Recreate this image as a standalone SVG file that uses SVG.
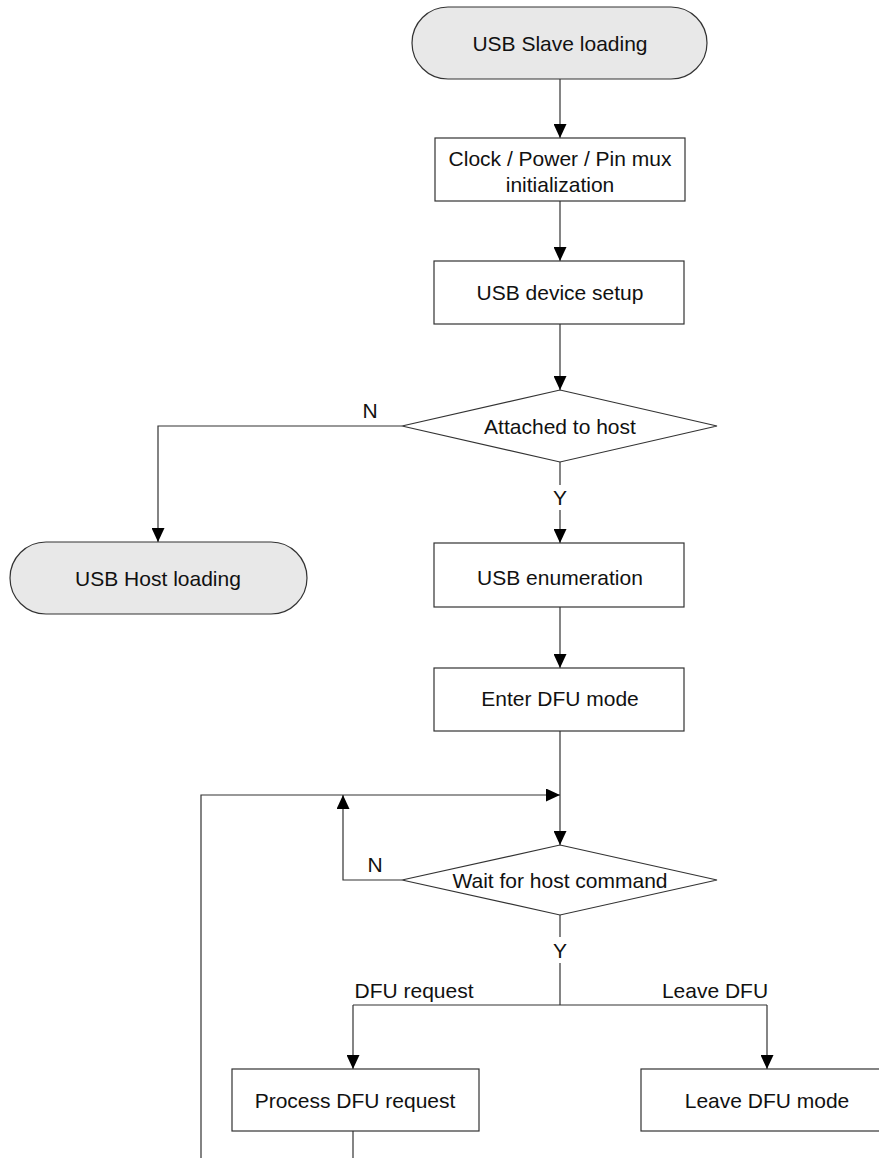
<svg xmlns="http://www.w3.org/2000/svg" width="879" height="1158" viewBox="0 0 879 1158">
<style>
.node{fill:#fff;stroke:#333;stroke-width:1.2}
.term{fill:#e8e8e8;stroke:#333;stroke-width:1.2}
.t{font-family:"Liberation Sans",Arial,sans-serif;font-size:21px;fill:#111;text-anchor:middle;dominant-baseline:central}
.c{fill:none;stroke:#333;stroke-width:1.2}
</style>
<defs>
<marker id="arr" markerUnits="userSpaceOnUse" markerWidth="14" markerHeight="13" refX="14" refY="6.5" orient="auto">
<path d="M0,0 L14,6.5 L0,13 z" fill="#000"/>
</marker>
</defs>
<rect width="879" height="1158" fill="#fff"/>
<g id="connectors">
<path class="c" d="M560,79 V138" marker-end="url(#arr)"/>
<path class="c" d="M560,201 V261" marker-end="url(#arr)"/>
<path class="c" d="M560,324 V390" marker-end="url(#arr)"/>
<path class="c" d="M402,426 H158 V542" marker-end="url(#arr)"/>
<path class="c" d="M560,462 V485"/>
<path class="c" d="M560,510 V543" marker-end="url(#arr)"/>
<path class="c" d="M560,607 V668" marker-end="url(#arr)"/>
<path class="c" d="M560,731 V845" marker-end="url(#arr)"/>
<path class="c" d="M201,1158 V795 H560" marker-end="url(#arr)"/>
<path class="c" d="M402,880 H343 V795" marker-end="url(#arr)"/>
<path class="c" d="M560,915 V937"/>
<path class="c" d="M560,963 V1005"/>
<path class="c" d="M353,1005 H767"/>
<path class="c" d="M353,1005 V1069" marker-end="url(#arr)"/>
<path class="c" d="M767,1005 V1069" marker-end="url(#arr)"/>
<path class="c" d="M353,1131 V1158"/>
<text class="t" x="370" y="410">N</text>
<text class="t" x="560" y="497">Y</text>
<text class="t" x="375" y="864">N</text>
<text class="t" x="560" y="950">Y</text>
<text class="t" x="414" y="990">DFU request</text>
<text class="t" x="715" y="990">Leave DFU</text>
</g>
<g id="start">
<rect class="term" x="412" y="7" width="295" height="72" rx="36" ry="36"/>
<text class="t" x="560" y="43">USB Slave loading</text>
</g>
<g id="init">
<rect class="node" x="435" y="138" width="250" height="63"/>
<text class="t" x="560" y="158">Clock / Power / Pin mux</text>
<text class="t" x="560" y="184">initialization</text>
</g>
<g id="setup">
<rect class="node" x="434" y="261" width="250" height="63"/>
<text class="t" x="560" y="292">USB device setup</text>
</g>
<g id="attached">
<polygon class="node" points="560,390 717,426 560,462 402,426"/>
<text class="t" x="560" y="426">Attached to host</text>
</g>
<g id="host">
<rect class="term" x="10" y="542" width="297" height="72" rx="36" ry="36"/>
<text class="t" x="158" y="578">USB Host loading</text>
</g>
<g id="enum">
<rect class="node" x="434" y="543" width="250" height="64"/>
<text class="t" x="560" y="577">USB enumeration</text>
</g>
<g id="dfu">
<rect class="node" x="434" y="668" width="250" height="63"/>
<text class="t" x="560" y="698">Enter DFU mode</text>
</g>
<g id="wait">
<polygon class="node" points="560,845 717,880 560,915 402,880"/>
<text class="t" x="560" y="880">Wait for host command</text>
</g>
<g id="process">
<rect class="node" x="232" y="1069" width="247" height="62"/>
<text class="t" x="355" y="1100">Process DFU request</text>
</g>
<g id="leave">
<rect class="node" x="641" y="1069" width="252" height="62"/>
<text class="t" x="767" y="1100">Leave DFU mode</text>
</g>
</svg>
